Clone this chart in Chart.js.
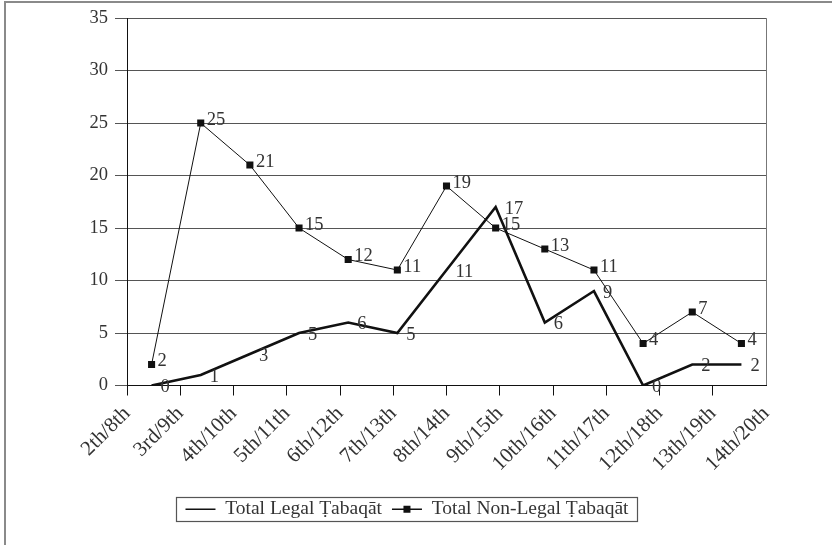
<!DOCTYPE html>
<html><head><meta charset="utf-8">
<script src="https://cdn.jsdelivr.net/npm/chart.js@4.4.1/dist/chart.umd.min.js"></script>
<style>
html,body{margin:0;padding:0;background:#fff;}
#wrap{position:relative;width:832px;height:545px;overflow:hidden;background:#fff;}
#frame{position:absolute;left:4px;top:1px;width:900px;height:600px;border-top:2px solid #8a8a8a;border-left:2px solid #8a8a8a;pointer-events:none;}
canvas{position:absolute;left:0;top:0;}
</style></head><body>
<div id="wrap"><canvas id="c" width="832" height="545"></canvas><div id="frame"></div></div>
<script>
const categories = ['2th/8th','3rd/9th','4th/10th','5th/11th','6th/12th','7th/13th','8th/14th','9th/15th','10th/16th','11th/17th','12th/18th','13th/19th','14th/20th'];
const legalValues = [0, 1, 3, 5, 6, 5, 11, 17, 6, 9, 0, 2, 2];
const nonLegalValues = [2, 25, 21, 15, 12, 11, 19, 15, 13, 11, 4, 7, 4];
const seriesNames = ['Total Legal Ṭabaqāt', 'Total Non-Legal Ṭabaqāt'];
const yTicks = [0, 5, 10, 15, 20, 25, 30, 35];

const FONT = '"Liberation Serif", "Times New Roman", serif';
const TEXT = '#333';
const LEGEND_SIZE = 19.5;

const valueLabels = {
  id: 'valueLabels',
  afterDatasetsDraw(chart) {
    const ctx = chart.ctx;
    ctx.save();
    ctx.font = '18.5px ' + FONT;
    ctx.fillStyle = TEXT;
    ctx.textAlign = 'left';
    ctx.textBaseline = 'middle';
    chart.data.datasets.forEach((ds, i) => {
      const meta = chart.getDatasetMeta(i);
      const off = i === 0 ? [9, 2] : [6, -3];
      meta.data.forEach((pt, j) => {
        ctx.fillText(String(ds.data[j]), pt.x + off[0], pt.y + off[1]);
      });
    });
    ctx.restore();
  }
};

const legendBox = {
  id: 'legendBox',
  afterDraw(chart) {
    const lg = chart.legend;
    const hb = lg && lg.legendHitBoxes;
    if (!hb || hb.length < 2) return;
    const ctx = chart.ctx;
    const last = hb[hb.length - 1];
    const l = Math.round(hb[0].left - 9), r = Math.round(last.left + last.width + 8);
    const t = Math.round(hb[0].top - 3), b = Math.round(hb[0].top + hb[0].height + 2);
    ctx.save();
    ctx.strokeStyle = '#555';
    ctx.lineWidth = 1.2;
    ctx.strokeRect(l + 0.5, t + 0.5, r - l, b - t);
    const cx = hb[1].left + 15, cy = hb[1].top + LEGEND_SIZE / 2;
    ctx.fillStyle = '#111';
    ctx.fillRect(cx - 3.5, cy - 3.5, 7, 7);
    ctx.restore();
  }
};

new Chart(document.getElementById('c'), {
  type: 'line',
  data: {
    labels: categories,
    datasets: [
      {
        label: seriesNames[0],
        data: legalValues,
        xAxisID: 'xd',
        borderColor: '#111',
        backgroundColor: '#111',
        borderWidth: 2.6,
        pointRadius: 0,
        tension: 0
      },
      {
        label: seriesNames[1],
        data: nonLegalValues,
        xAxisID: 'xd',
        borderColor: '#111',
        backgroundColor: '#111',
        borderWidth: 1,
        pointStyle: 'rect',
        pointRadius: 5,
        pointBorderWidth: 0,
        pointBackgroundColor: '#111',
        tension: 0
      }
    ]
  },
  options: {
    responsive: false,
    animation: false,
    devicePixelRatio: 1,
    layout: { padding: { left: 48, right: 66, top: 16, bottom: 16 } },
    scales: {
      xd: {
        type: 'category',
        display: false,
        offset: true
      },
      x: {
        type: 'category',
        position: 'bottom',
        offset: false,
        afterFit: s => { s.height = 104; },
        grid: {
          drawOnChartArea: true,
          drawTicks: true,
          tickLength: 10,
          color: c => c.index === categories.length - 1 ? '#777' : 'rgba(0,0,0,0)',
          tickColor: c => c.index === categories.length - 1 ? 'rgba(0,0,0,0)' : '#111',
          lineWidth: 1
        },
        border: { display: true, color: '#111', width: 1 },
        ticks: {
          autoSkip: false,
          maxRotation: 45,
          minRotation: 45,
          padding: 6,
          color: TEXT,
          font: { family: FONT, size: 21 }
        }
      },
      y: {
        min: 0,
        max: 35,
        afterFit: s => { s.width = 79; },
        afterBuildTicks: s => { s.ticks = yTicks.map(v => ({ value: v })); },
        grid: {
          color: '#555',
          lineWidth: 1,
          tickLength: 12,
          drawTicks: true
        },
        border: { display: true, color: '#111', width: 1 },
        ticks: {
          padding: 7,
          color: TEXT,
          font: { family: FONT, size: 18.5 }
        }
      }
    },
    plugins: {
      tooltip: { enabled: false },
      legend: {
        display: true,
        position: 'bottom',
        labels: {
          usePointStyle: true,
          pointStyle: 'line',
          pointStyleWidth: 30,
          padding: 10,
          color: TEXT,
          font: { family: FONT, size: LEGEND_SIZE },
          generateLabels: chart => Chart.defaults.plugins.legend.labels.generateLabels(chart).map(it => Object.assign(it, { lineWidth: 1.5, pointStyle: 'line' }))
        }
      }
    }
  },
  plugins: [valueLabels, legendBox]
});
</script>
</body></html>
